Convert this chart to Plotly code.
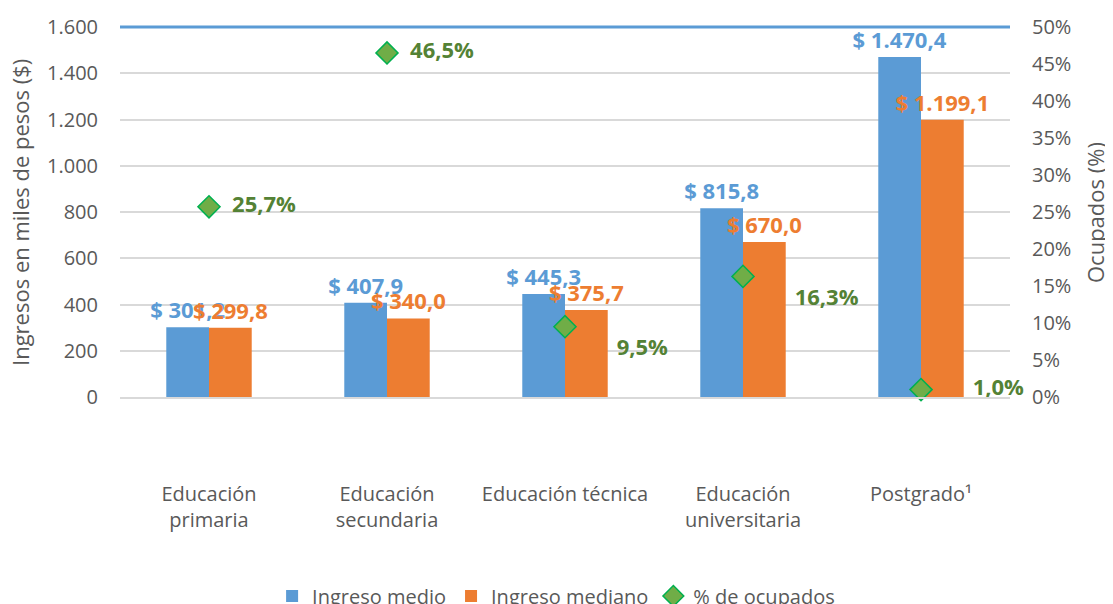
import plotly.graph_objects as go

categories = ["Educación<br>primaria", "Educación<br>secundaria", "Educación técnica",
              "Educación<br>universitaria", "Postgrado¹"]
ingreso_medio = [301.2, 407.9, 445.3, 815.8, 1470.4]
ingreso_mediano = [299.8, 340.0, 375.7, 670.0, 1199.1]
pct_ocupados = [0.257, 0.465, 0.095, 0.163, 0.010]

left_ticks = [0, 200, 400, 600, 800, 1000, 1200, 1400, 1600]
right_ticks = [0, 0.05, 0.10, 0.15, 0.20, 0.25, 0.30, 0.35, 0.40, 0.45, 0.50]

# styling of the % labels (kept apart from the data)
pct_label_pos = ["middle right", "middle right", "bottom right", "bottom right", "middle right"]
pct_label_pad = [2, 2, 7, 7, 7]

BLUE = "#5b9bd5"
ORANGE = "#ed7d31"
GREEN_TXT = "#548235"
GREEN_FILL = "#70ad47"
GREEN_LINE = "#00b050"
GREY = "#595959"
GRID = "#d9d9d9"
FONT = "Open Sans"


def money(v):
    s = f"{v:,.1f}".replace(",", "X").replace(".", ",").replace("X", ".")
    return "$ " + s


def pct(v, pad):
    return " " * pad + f"{v*100:.1f}".replace(".", ",") + "%"


fig = go.Figure()
fig.add_trace(go.Bar(
    x=categories, y=ingreso_medio, name="Ingreso medio",
    marker=dict(color=BLUE, line=dict(width=0)),
    text=[money(v) for v in ingreso_medio], textposition="outside",
    textfont=dict(color=BLUE, size=22, family=FONT, weight="bold"),
    constraintext="none", cliponaxis=False, hoverinfo="skip",
))
fig.add_trace(go.Bar(
    x=categories, y=ingreso_mediano, name="Ingreso mediano",
    marker=dict(color=ORANGE, line=dict(width=0)),
    text=[money(v) for v in ingreso_mediano], textposition="outside",
    textfont=dict(color=ORANGE, size=22, family=FONT, weight="bold"),
    constraintext="none", cliponaxis=False, hoverinfo="skip",
))
fig.add_trace(go.Scatter(
    x=categories, y=pct_ocupados, name="% de ocupados", yaxis="y2",
    mode="markers+text",
    marker=dict(symbol="diamond", size=17, color=GREEN_FILL,
                line=dict(color=GREEN_LINE, width=1.5)),
    text=[pct(v, p) for v, p in zip(pct_ocupados, pct_label_pad)],
    textposition=pct_label_pos,
    textfont=dict(color=GREEN_TXT, size=22, family=FONT, weight="bold"),
    cliponaxis=False, hoverinfo="skip",
))

fig.update_layout(
    width=1105, height=596,
    margin=dict(l=112, r=103, t=19, b=207, autoexpand=False),
    paper_bgcolor="white", plot_bgcolor="white",
    separators=",.",
    font=dict(family=FONT, size=20, color=GREY),
    barmode="group", bargap=0.52, bargroupgap=0,
    xaxis=dict(showgrid=False, showline=True, linecolor=GRID, linewidth=1.5,
               ticks="", ticklabelstandoff=78,
               tickfont=dict(size=20, color=GREY)),
    yaxis=dict(range=[0, 1600], tickvals=left_ticks, tickformat=",",
               showgrid=True, gridcolor=GRID, gridwidth=1.5, zeroline=False,
               showline=False, ticks="", ticklabelstandoff=21,
               tickfont=dict(size=20, color=GREY)),
    yaxis2=dict(range=[0, 0.5], tickvals=right_ticks, tickformat=".0%",
                overlaying="y", side="right", showgrid=False, zeroline=False,
                showline=False, ticks="", ticklabelstandoff=21,
                tickfont=dict(size=20, color=GREY)),
    showlegend=True,
    legend=dict(orientation="h", x=0.49, xanchor="center", y=-0.485, yanchor="top",
                font=dict(size=20, color=GREY), traceorder="normal",
                itemwidth=30),
    shapes=[dict(type="line", xref="paper", yref="paper", x0=0, x1=1, y0=1, y1=1,
                 line=dict(color=BLUE, width=3), layer="above")],
    annotations=[
        dict(text="Ingresos en miles de pesos ($)", xref="paper", yref="paper",
             x=-0.1124, y=0.5, xanchor="center", yanchor="middle", textangle=-90,
             showarrow=False, font=dict(size=22, color=GREY)),
        dict(text="Ocupados (%)", xref="paper", yref="paper",
             x=1.0955, y=0.5, xanchor="center", yanchor="middle", textangle=-90,
             showarrow=False, font=dict(size=22, color=GREY)),
    ],
)

fig.write_html("out.html")
